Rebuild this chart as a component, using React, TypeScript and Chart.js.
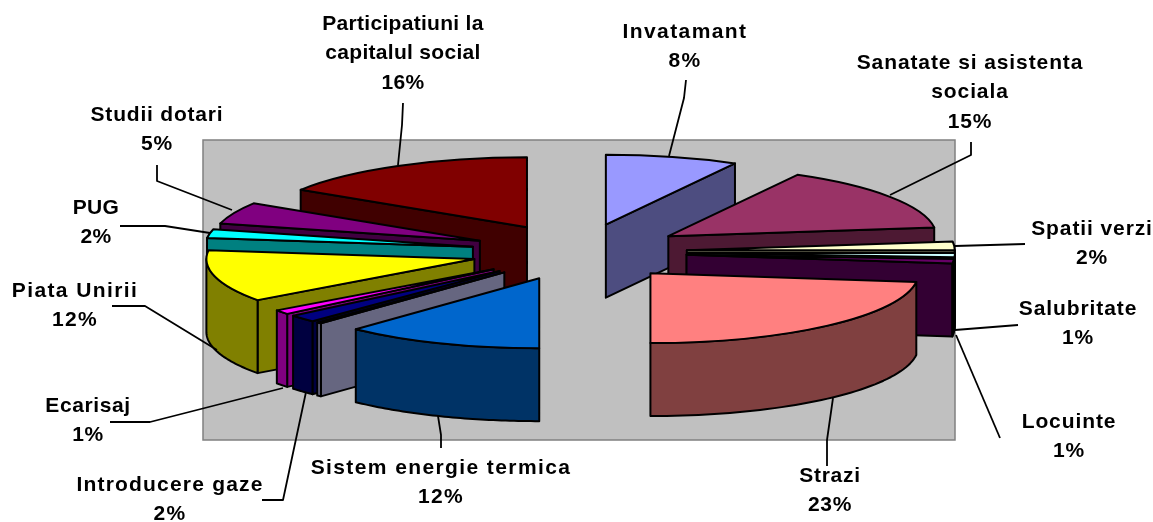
import React, { useEffect, useRef } from "react";
import { Chart, registerables } from "chart.js";

Chart.register(...registerables);

const categories = [
  "Invatamant", "Sanatate si asistenta sociala", "Spatii verzi", "Locuinte", "Salubritate", "Strazi",
  "Sistem energie termica", "Alte", "Introducere gaze", "Ecarisaj", "Piata Unirii", "PUG", "Studii dotari",
  "Participatiuni la capitalul social",
];
const shares = [8, 15, 2, 1, 1, 23, 12, 0.3, 1.7, 1, 12, 2, 5, 16];
const topColors = [
  "#9999FF", "#993366", "#FFFFCC", "#CCFFFF", "#660066", "#FF8080", "#0066CC", "#CCCCFF", "#000080",
  "#FF00FF", "#FFFF00", "#00FFFF", "#800080", "#800000",
];
const sideColors = [
  "#4D4D80", "#4D1933", "#808066", "#668080", "#330033", "#804040", "#003366", "#666680", "#000040",
  "#800080", "#808000", "#008080", "#400040", "#400000",
];

const labelLines: string[][] = [
  ["Participatiuni la", "capitalul social", "16%"],
  ["Invatamant", "8%"],
  ["Sanatate si asistenta", "sociala", "15%"],
  ["Spatii verzi", "2%"],
  ["Salubritate", "1%"],
  ["Locuinte", "1%"],
  ["Strazi", "23%"],
  ["Sistem energie termica", "12%"],
  ["Introducere gaze", "2%"],
  ["Ecarisaj", "1%"],
  ["Piata Unirii", "12%"],
  ["PUG", "2%"],
  ["Studii dotari", "5%"],
];
const labelCentreX = [403, 685, 970, 1092, 1078, 1069, 830, 441, 170, 88, 75, 96, 157];
const labelFirstY = [24, 32, 63, 229, 309, 422, 476, 468, 485, 406, 291, 208, 115];
const labelTracking = [0.3, 1.4, 0.9, 0.9, 0.9, 0.9, 0.7, 1.4, 1.2, 0.6, 1.4, 0.3, 0.8];
const leaderLines: number[][][] = [
  [[403, 103], [402, 125], [398, 165]],
  [[686, 80], [684, 98], [669, 156]],
  [[971, 142], [971, 155], [890, 195]],
  [[1025, 244], [955, 246]],
  [[1018, 325], [955, 330]],
  [[1000, 438], [956, 335]],
  [[827, 466], [827, 440], [833, 398]],
  [[441, 448], [441, 435], [438, 416]],
  [[262, 500], [283, 500], [306, 392]],
  [[110, 422], [150, 422], [283, 388]],
  [[112, 306], [145, 306], [217, 350]],
  [[120, 226], [165, 226], [210, 233]],
  [[157, 165], [157, 181], [232, 210]],
];

const SQUASH = 0.261;
const DEPTH = 73;
const EXPLODE = 108;
const RADIUS = 268;
const WALL = { x: 203, y: 140, w: 752, h: 300 };
const LINE_H = 29.7;

const pie3d = {
  id: "pie3d",
  beforeDraw(chart: any) {
    const { ctx } = chart;
    ctx.save();
    ctx.fillStyle = "#FFFFFF";
    ctx.fillRect(0, 0, chart.width, chart.height);
    ctx.fillStyle = "#C0C0C0";
    ctx.strokeStyle = "#808080";
    ctx.lineWidth = 1.5;
    ctx.fillRect(WALL.x, WALL.y, WALL.w, WALL.h);
    ctx.strokeRect(WALL.x, WALL.y, WALL.w, WALL.h);
    ctx.restore();
  },
  beforeDatasetDraw(chart: any, args: any) {
    const { ctx } = chart;
    const arcs: any[] = args.meta.data;
    const geo = arcs.map((arc, i) => {
      const p = arc.getProps(["x", "y", "startAngle", "endAngle", "outerRadius"], true);
      const mid = (p.startAngle + p.endAngle) / 2;
      const ox = p.x + EXPLODE * Math.cos(mid);
      const oy = p.y + EXPLODE * Math.sin(mid) * SQUASH;
      return { arc, i, p, ox, oy };
    });
    const pt = (g: any, a: number) => [
      g.ox + g.p.outerRadius * Math.cos(a),
      g.oy + g.p.outerRadius * Math.sin(a) * SQUASH,
    ];
    ctx.save();
    ctx.lineJoin = "round";
    ctx.strokeStyle = "#000000";
    ctx.lineWidth = 2;
    const face = (pts: number[][], fill: string) => {
      ctx.beginPath();
      pts.forEach(([x, y], n) => (n ? ctx.lineTo(x, y) : ctx.moveTo(x, y)));
      ctx.closePath();
      ctx.fillStyle = fill;
      ctx.fill();
      ctx.stroke();
    };
    const sorted = [...geo].sort((a, b) => a.oy - b.oy);
    for (const g of sorted) {
      const fill = sideColors[g.i];
      const { startAngle: s, endAngle: e } = g.p;
      const radial = (a: number) => {
        const [x, y] = pt(g, a);
        face([[g.ox, g.oy], [x, y], [x, y + DEPTH], [g.ox, g.oy + DEPTH]], fill);
      };
      if (Math.cos(s) < -1e-6) radial(s);
      if (Math.cos(e) > 1e-6) radial(e);
      const a0 = Math.max(s, 0);
      const a1 = Math.min(e, Math.PI);
      if (a1 > a0) {
        const top: number[][] = [];
        const steps = 48;
        for (let n = 0; n <= steps; n++) top.push(pt(g, a0 + ((a1 - a0) * n) / steps));
        const bottom = top.map(([x, y]) => [x, y + DEPTH]).reverse();
        face([...top, ...bottom], fill);
      }
    }
    for (const g of geo) {
      ctx.save();
      ctx.translate(0, g.oy);
      ctx.scale(1, SQUASH);
      ctx.translate(g.ox - g.p.x, -g.p.y);
      g.arc.draw(ctx);
      ctx.restore();
      ctx.save();
      ctx.translate(g.ox, g.oy);
      ctx.scale(1, SQUASH);
      ctx.beginPath();
      ctx.moveTo(0, 0);
      ctx.arc(0, 0, g.p.outerRadius, g.p.startAngle, g.p.endAngle);
      ctx.closePath();
      ctx.restore();
      ctx.stroke();
    }
    ctx.restore();
    return false;
  },
  afterDraw(chart: any) {
    const { ctx } = chart;
    ctx.save();
    ctx.strokeStyle = "#000000";
    ctx.lineWidth = 1.8;
    ctx.lineJoin = "round";
    leaderLines.forEach((line) => {
      ctx.beginPath();
      line.forEach(([x, y], n) => (n ? ctx.lineTo(x, y) : ctx.moveTo(x, y)));
      ctx.stroke();
    });
    ctx.fillStyle = "#000000";
    ctx.font = 'bold 21px "Liberation Sans"';
    ctx.textAlign = "center";
    ctx.textBaseline = "middle";
    labelLines.forEach((lines, i) => {
      (ctx as any).letterSpacing = `${labelTracking[i]}px`;
      lines.forEach((t, n) => ctx.fillText(t, labelCentreX[i], labelFirstY[i] + n * LINE_H));
    });
    ctx.restore();
  },
};

export default function App() {
  const ref = useRef<HTMLCanvasElement>(null);
  useEffect(() => {
    document.body.style.margin = "0";
    const chart = new Chart(ref.current!, {
      type: "pie",
      data: {
        labels: categories,
        datasets: [{ data: shares, backgroundColor: topColors, borderWidth: 0, radius: RADIUS } as any],
      },
      options: {
        responsive: false,
        animation: false,
        events: [],
        layout: { padding: { left: 5, bottom: 18 } },
        plugins: { legend: { display: false }, tooltip: { enabled: false } },
      },
      plugins: [pie3d as any],
    });
    return () => chart.destroy();
  }, []);
  return <canvas ref={ref} width={1153} height={522} style={{ display: "block" }} />;
}
